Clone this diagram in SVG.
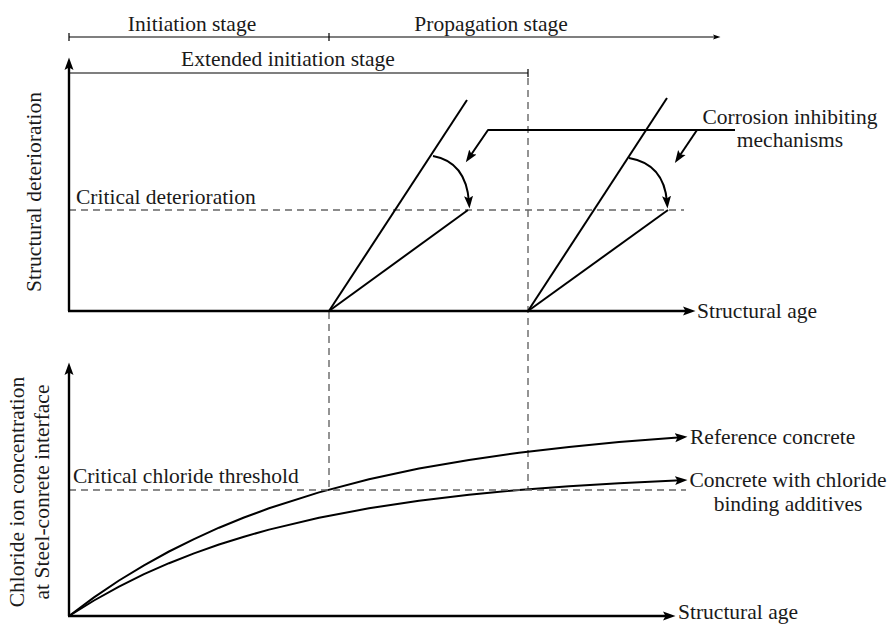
<svg xmlns="http://www.w3.org/2000/svg" width="890" height="624" viewBox="0 0 890 624">
<style>
text{font-family:"Liberation Serif","Times New Roman",serif;font-size:21.5px;fill:#1a1a1a}
.mid{text-anchor:middle}
.ax{stroke:#000;stroke-width:2.4;fill:none}
.ln{stroke:#000;stroke-width:2;fill:none;stroke-linejoin:round}
.thin{stroke:#000;stroke-width:1.2;fill:none}
.dash{stroke:#666;stroke-width:1.4;stroke-dasharray:7 5;fill:none}
</style>
<defs>
<marker id="arr" markerUnits="userSpaceOnUse" markerWidth="13" markerHeight="10" refX="6" refY="5" orient="auto">
<path d="M0,0.5 L12.5,5 L0,9.5 L2.5,5 Z" fill="#000"/>
</marker>
<marker id="sm" markerUnits="userSpaceOnUse" markerWidth="8" markerHeight="6" refX="3" refY="3" orient="auto">
<path d="M0,0.5 L7.5,3 L0,5.5 L1.5,3 Z" fill="#000"/>
</marker>
</defs>

<g id="stages">
<line class="thin" x1="69" y1="37" x2="716" y2="37" marker-end="url(#sm)"/>
<line class="thin" x1="69" y1="33" x2="69" y2="41"/>
<line class="thin" x1="329" y1="33" x2="329" y2="41"/>
<text class="mid" x="192" y="31">Initiation stage</text>
<text class="mid" x="491" y="31">Propagation stage</text>
<line class="thin" x1="69" y1="73" x2="528" y2="73"/>
<line class="thin" x1="528" y1="69" x2="528" y2="77"/>
<text class="mid" x="288" y="66">Extended initiation stage</text>
</g>

<g id="upper-plot">
<line class="dash" x1="69" y1="210" x2="684" y2="210"/>
<line class="dash" x1="528" y1="78" x2="528" y2="490"/>
<line class="dash" x1="329" y1="312" x2="329" y2="490"/>
<line class="ax" x1="69" y1="311" x2="69" y2="64" marker-end="url(#arr)"/>
<line class="ax" x1="68" y1="311" x2="689" y2="311" marker-end="url(#arr)"/>
<text transform="translate(41,192) rotate(-90)" class="mid">Structural deterioration</text>
<text x="697" y="318">Structural age</text>
<text x="76" y="204">Critical deterioration</text>
</g>

<g id="slopes">
<line class="ln" x1="329" y1="311" x2="467" y2="100"/>
<line class="ln" x1="329" y1="311" x2="468" y2="210"/>
<line class="ln" x1="528" y1="311" x2="667" y2="98"/>
<line class="ln" x1="528" y1="311" x2="668" y2="210"/>
</g>

<g id="connectors">
<path class="ln" d="M433,156 Q466,162 469,202" marker-end="url(#arr)"/>
<path class="ln" d="M629,158 Q664,164 667,202" marker-end="url(#arr)"/>
<polyline class="ln" points="735,130 488,130 469.5,157" marker-end="url(#arr)"/>
<line class="ln" x1="697" y1="130" x2="678.5" y2="157.5" marker-end="url(#arr)"/>
<polyline class="ln" points="69,616 94,597.4 119,580.5 144,565.3 169,551.5 194,539.2 219,527.7 244,517.5 269,508.3 319,492.4 369,479.3 419,468.6 469,459.9 519,452.7 569,446.9 619,442.1 681,437.3" marker-end="url(#arr)"/>
<polyline class="ln" points="69,616 94,600.5 119,586.6 144,574.2 169,563.2 194,553.4 219,544.5 244,536.7 269,529.6 319,517.7 369,508.3 419,500.8 469,494.8 519,490.0 569,486.2 619,483.2 681,480.3" marker-end="url(#arr)"/>
</g>

<g id="corrosion-label">
<text class="mid" x="790" y="124">Corrosion inhibiting</text>
<text class="mid" x="790" y="147">mechanisms</text>
</g>

<g id="lower-plot">
<line class="dash" x1="69" y1="490" x2="686" y2="490"/>
<line class="ax" x1="69" y1="616" x2="69" y2="369" marker-end="url(#arr)"/>
<line class="ax" x1="68" y1="616" x2="669" y2="616" marker-end="url(#arr)"/>
<text transform="translate(24,492) rotate(-90)" class="mid">Chloride ion concentration</text>
<text transform="translate(49,492) rotate(-90)" class="mid">at Steel-conrete interface</text>
<text x="73" y="483">Critical chloride threshold</text>
<text x="678" y="619">Structural age</text>
</g>

<g id="curve-labels">
<text x="690" y="444">Reference concrete</text>
<text class="mid" x="788" y="487">Concrete with chloride</text>
<text class="mid" x="788" y="511">binding additives</text>
</g>
</svg>
